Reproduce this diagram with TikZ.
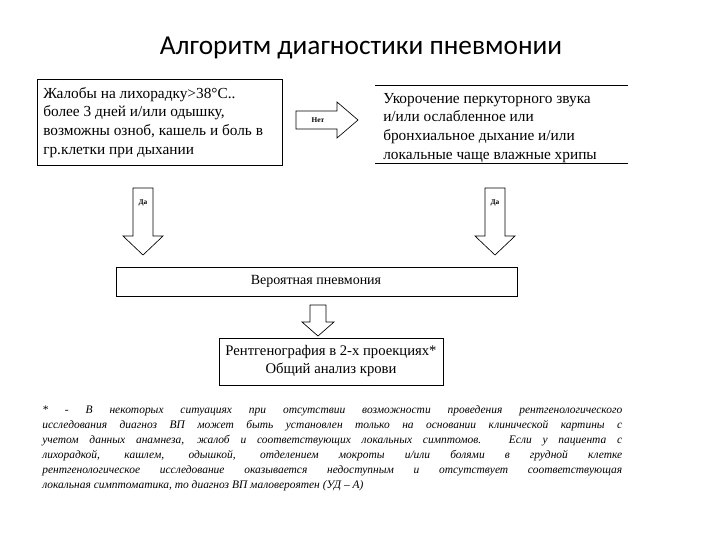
\documentclass[tikz,border=0pt]{standalone}
\usepackage{fontspec}
\setmainfont{Liberation Serif}
\newfontfamily\titlefont{Carlito}
\begin{document}
\begin{tikzpicture}[x=0.75pt,y=-0.75pt,
  box/.style={draw,line width=0.6pt,inner sep=0pt},
  txt/.style={font=\fontsize{11.5}{14}\selectfont,align=left,anchor=north west,inner sep=0pt},
  blk/.style={draw,line width=0.5pt,fill=white},
  lab/.style={font=\fontsize{5.5}{6}\selectfont\bfseries}]
\useasboundingbox (0,0) rectangle (720,540);
\node[font=\titlefont\fontsize{20.5}{24}\selectfont] (title) at (361,48) {Алгоритм диагностики пневмонии};
% left box
\draw[box] (37,79) rectangle (282,165);
\node[txt] (l) at (43,87) {Жалобы на лихорадку>38°С..\\более 3  дней и/или одышку,\\возможны озноб, кашель и боль в\\гр.клетки при дыхании};
% right box
\draw[box] (375,85) -- (628,85) (375,163) -- (628,163);
\node[txt] (r) at (383,93) {Укорочение перкуторного звука\\и/или ослабленное или\\бронхиальное дыхание и/или\\локальные чаще влажные хрипы};
% Net arrow
\draw[blk] (296,111) -- (337,111) -- (337,102) -- (358,120) -- (337,138) -- (337,129) -- (296,129) -- cycle;
\node[lab] (net) at (318,120) {Нет};
% Da arrows
\draw[blk] (133,188) -- (153,188) -- (153,236) -- (163,236) -- (143,255) -- (123,236) -- (133,236) -- cycle;
\node[lab] (da1) at (143,203) {Да};
\draw[blk] (485,188) -- (505,188) -- (505,236) -- (515,236) -- (495,255) -- (475,236) -- (485,236) -- cycle;
\node[lab] (da2) at (495,203) {Да};
% probable
\draw[box] (116,267) rectangle (517,296);
\node[font=\fontsize{10.5}{12}\selectfont] (p) at (316,281) {Вероятная пневмония};
% small arrow
\draw[blk] (310,305) -- (326,305) -- (326,322) -- (334,322) -- (318,336) -- (302,322) -- (310,322) -- cycle;
% xray box
\draw[box] (219,338) rectangle (443,385);
\node[font=\fontsize{11}{13.5}\selectfont,align=center] (x) at (331,361) {Рентгенография в 2-х проекциях*\\Общий анализ крови};
% footnote
\node[font=\fontsize{8.6}{11.3}\selectfont\itshape,text width=435pt,align=justify,anchor=north west,inner sep=0pt] (fn) at (42,405) {* - В некоторых ситуациях при отсутствии возможности проведения рентгенологического\linebreak исследования диагноз ВП может быть установлен только на основании клинической картины с\linebreak учетом данных анамнеза, жалоб и соответствующих локальных симптомов. Если у пациента с\linebreak лихорадкой, кашлем, одышкой, отделением мокроты и/или болями в грудной клетке\linebreak рентгенологическое исследование оказывается недоступным и отсутствует соответствующая\linebreak локальная симптоматика, то диагноз ВП маловероятен (УД – А)};
\end{tikzpicture}
\end{document}
